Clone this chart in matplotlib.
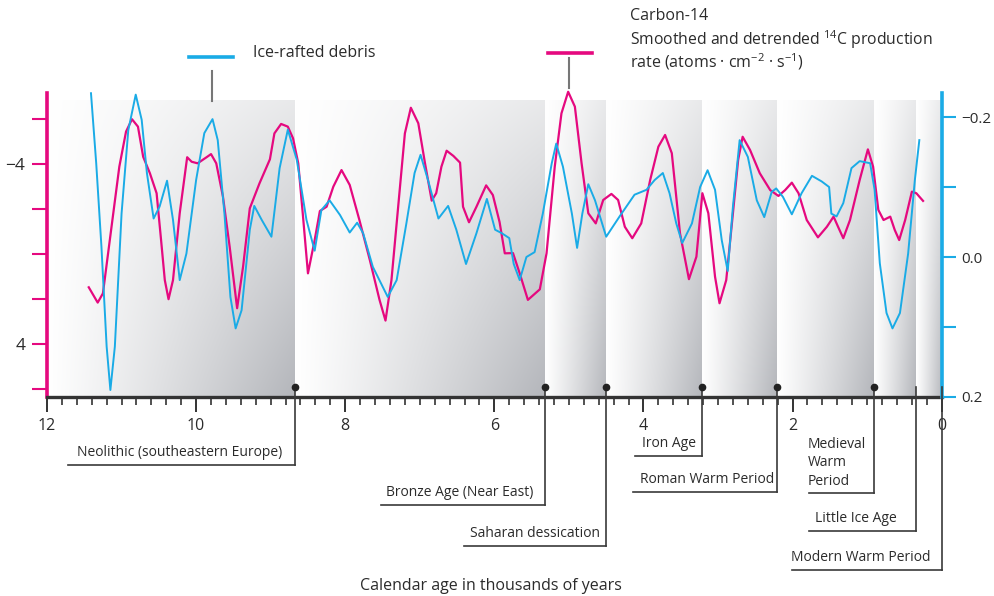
import numpy as np
import matplotlib
matplotlib.use("Agg")
import matplotlib.pyplot as plt
from matplotlib.lines import Line2D

plt.rcParams["font.family"] = ["Open Sans", "DejaVu Sans"]
plt.rcParams["mathtext.fontset"] = "custom"
plt.rcParams["mathtext.rm"] = "Open Sans"
plt.rcParams["mathtext.default"] = "regular"

MAGENTA = "#e5097f"
CYAN = "#1aabe6"
INK = "#2b2b2b"

# carbon-14 production rate (left axis, inverted)
c14_age = [11.44, 11.32, 11.25, 11.14, 11.03, 10.94, 10.86, 10.78, 10.71, 10.62,
           10.53, 10.47, 10.42, 10.37, 10.31, 10.22, 10.12, 10.06, 9.98, 9.86,
           9.80, 9.73, 9.64, 9.55, 9.45, 9.37, 9.28, 9.15, 9.01, 8.95,
           8.86, 8.77, 8.70, 8.63, 8.57, 8.50, 8.41, 8.34, 8.25, 8.16,
           8.05, 7.94, 7.81, 7.67, 7.54, 7.46, 7.38, 7.29, 7.20, 7.12,
           7.02, 6.93, 6.84, 6.78, 6.71, 6.64, 6.55, 6.46, 6.42, 6.34,
           6.24, 6.11, 6.02, 5.93, 5.86, 5.75, 5.66, 5.55, 5.39, 5.30,
           5.19, 5.10, 5.01, 4.92, 4.83, 4.74, 4.64, 4.54, 4.43, 4.34,
           4.25, 4.15, 4.03, 3.91, 3.80, 3.71, 3.62, 3.51, 3.39, 3.29,
           3.21, 3.13, 3.04, 2.98, 2.89, 2.80, 2.73, 2.67, 2.57, 2.44,
           2.30, 2.19, 2.10, 2.01, 1.92, 1.81, 1.66, 1.54, 1.45, 1.39,
           1.32, 1.23, 1.10, 0.99, 0.92, 0.85, 0.78, 0.69, 0.63, 0.57,
           0.49, 0.40, 0.34, 0.25]
c14_rate = [1.48, 2.16, 1.75, -1.07, -3.88, -5.44, -5.99, -5.66, -4.32, -3.59,
            -2.70, -0.62, 1.16, 2.01, 1.16, -1.81, -4.30, -4.10, -4.03, -4.30,
            -4.44, -4.03, -2.55, -0.32, 2.41, 0.56, -2.03, -3.14, -4.21, -5.36,
            -5.78, -5.66, -5.14, -4.03, -1.81, 0.86, -0.62, -1.91, -2.10, -2.99,
            -3.73, -3.07, -1.51, 0.27, 2.04, 2.96, 1.16, -2.10, -5.36, -6.50,
            -5.81, -4.03, -2.37, -2.70, -3.88, -4.59, -4.36, -4.06, -2.10, -1.41,
            -2.10, -3.05, -2.62, -1.42, -0.03, -0.04, 0.86, 2.04, 1.57, -0.03,
            -3.88, -6.25, -7.21, -6.55, -4.03, -1.81, -1.36, -2.40, -2.67, -2.40,
            -1.21, -0.70, -1.36, -3.29, -4.77, -5.29, -4.48, -0.92, 1.12, 0.12,
            -2.70, -1.81, 1.01, 2.19, 1.16, -1.81, -4.18, -5.21, -4.62, -3.59,
            -2.84, -2.58, -2.84, -3.17, -2.70, -1.51, -0.74, -1.21, -1.66, -1.21,
            -0.70, -1.51, -3.29, -4.65, -3.88, -1.96, -1.51, -1.66, -1.07, -0.62,
            -1.51, -2.77, -2.70, -2.36]

# ice-rafted debris (right axis, inverted)
ird_age = [11.41, 11.34, 11.27, 11.20, 11.15, 11.09, 11.00, 10.91, 10.81, 10.73,
           10.66, 10.57, 10.49, 10.39, 10.31, 10.22, 10.13, 10.00, 9.89, 9.78,
           9.71, 9.62, 9.54, 9.47, 9.39, 9.28, 9.22, 9.12, 8.99, 8.88,
           8.77, 8.65, 8.52, 8.41, 8.32, 8.21, 8.07, 7.94, 7.84, 7.76,
           7.63, 7.43, 7.31, 7.18, 7.07, 6.99, 6.89, 6.75, 6.62, 6.51,
           6.38, 6.24, 6.10, 5.99, 5.90, 5.80, 5.74, 5.66, 5.57, 5.46,
           5.35, 5.23, 5.17, 5.08, 4.96, 4.89, 4.82, 4.74, 4.65, 4.50,
           4.32, 4.12, 3.96, 3.85, 3.74, 3.65, 3.56, 3.48, 3.35, 3.24,
           3.14, 3.04, 2.95, 2.87, 2.80, 2.71, 2.60, 2.48, 2.38, 2.28,
           2.22, 2.13, 2.01, 1.88, 1.74, 1.61, 1.51, 1.48, 1.41, 1.32,
           1.21, 1.10, 0.96, 0.90, 0.83, 0.74, 0.66, 0.56, 0.45, 0.36, 0.30]
ird_value = [-0.234, -0.134, -0.015, 0.128, 0.190, 0.128, -0.062, -0.181, -0.232, -0.196,
             -0.120, -0.055, -0.072, -0.109, -0.053, 0.033, -0.005, -0.110, -0.177, -0.197,
             -0.167, -0.062, 0.057, 0.102, 0.076, -0.039, -0.073, -0.053, -0.029, -0.127,
             -0.182, -0.139, -0.053, -0.009, -0.067, -0.081, -0.060, -0.035, -0.049, -0.034,
             0.014, 0.057, 0.033, -0.048, -0.120, -0.146, -0.110, -0.055, -0.073, -0.039,
             0.010, -0.034, -0.083, -0.039, -0.034, -0.027, 0.010, 0.033, 0.000, -0.007,
             -0.062, -0.134, -0.162, -0.129, -0.062, -0.013, -0.062, -0.104, -0.081, -0.029,
             -0.058, -0.089, -0.096, -0.110, -0.120, -0.091, -0.048, -0.020, -0.048, -0.100,
             -0.124, -0.096, -0.024, 0.020, -0.072, -0.167, -0.143, -0.081, -0.057, -0.093,
             -0.098, -0.086, -0.061, -0.091, -0.116, -0.108, -0.100, -0.062, -0.058, -0.077,
             -0.127, -0.137, -0.134, -0.096, 0.009, 0.080, 0.102, 0.080, -0.005, -0.110, -0.167]

# cultural / climate periods along the age axis
event_age = [8.68, 5.32, 4.50, 3.21, 2.21, 0.91, 0.35, 0.0]
event_label = ["Neolithic (southeastern Europe)", "Bronze Age (Near East)",
               "Saharan dessication", "Iron Age", "Roman Warm Period",
               "Medieval\nWarm\nPeriod", "Little Ice Age", "Modern Warm Period"]
event_dot = [True, True, True, True, True, True, False, False]
# label layout in pixels: underline y, underline left x, text left x
event_box = [(465, 68, 77), (505, 381, 386), (546, 464, 470), (456, 635, 642),
             (492, 633, 640), (493, 809, 808), (531, 809, 815), (570, 792, 791)]

band_edges = [12.0, 8.68, 5.32, 4.50, 3.21, 2.21, 0.91, 0.35, 0.0]

W, H = 995, 596
fig = plt.figure(figsize=(W / 100, H / 100), dpi=100)


def fx(px):
    return px / W


def fy(py):
    return 1 - py / H


rect = [fx(47), fy(397), fx(941.7) - fx(47), fy(93.3) - fy(397)]

# shaded background bands
bg = fig.add_axes(rect)
bg.axis("off")
dark = np.array([180, 182, 187]) / 255.0
nr, nc = 120, 200
hx = np.linspace(0, 1, nc) ** 1.1
vy = np.linspace(1, 0, nr)
shade = hx[None, :] * (0.3 + 0.7 * vy[:, None])
img = 1 - shade[:, :, None] * (1 - dark[None, None, :])
for a0, a1 in zip(band_edges[:-1], band_edges[1:]):
    bg.imshow(img, extent=(a0, a1, 0, 0.975), origin="lower", aspect="auto",
              interpolation="bilinear")
bg.set_xlim(12, 0)
bg.set_ylim(0, 1)

ax = fig.add_axes(rect)
ax.patch.set_alpha(0)
ax2 = ax.twinx()

ax.plot(c14_age, c14_rate, color=MAGENTA, lw=1.6, clip_on=False, zorder=3,
        solid_joinstyle="round")
ax2.plot(ird_age, ird_value, color=CYAN, lw=1.4, clip_on=False, zorder=3,
         solid_joinstyle="round")

ax.set_xlim(12, 0)
ax.set_ylim(6.356, -7.142)
ax2.set_ylim(0.2, -0.2339)

for s in ["top", "right"]:
    ax.spines[s].set_visible(False)
for s in ["top", "left", "bottom"]:
    ax2.spines[s].set_visible(False)
ax.spines["left"].set_color(MAGENTA)
ax.spines["left"].set_linewidth(2.6)
ax.spines["bottom"].set_color("#333333")
ax.spines["bottom"].set_linewidth(2.4)
ax2.spines["right"].set_color(CYAN)
ax2.spines["right"].set_linewidth(2.6)

ax.set_xticks(range(0, 13, 2))
ax.set_xticklabels([str(v) for v in range(0, 13, 2)])
ax.set_xticks(np.arange(0, 12.01, 0.2), minor=True)
ax.tick_params(axis="x", which="major", length=11, width=1.4, color="#333333",
               labelsize=11.5, labelcolor=INK, pad=4)
ax.tick_params(axis="x", which="minor", length=6, width=1.2, color="#333333")

ax.set_yticks([-6, -4, -2, 0, 2, 4, 6])
ax.set_yticklabels(["", "\u22124", "", "", "", "4", ""])
ax.tick_params(axis="y", length=11, width=1.5, color=MAGENTA, labelsize=12.5,
               labelcolor=INK, pad=4.5)

ax2.set_yticks([-0.2, -0.1, 0.0, 0.1, 0.2])
ax2.set_yticklabels(["\u22120.2", "", "0.0", "", "0.2"])
ax2.tick_params(axis="y", length=10, width=1.5, color=CYAN, labelsize=11,
                labelcolor=INK, pad=4)

# period markers and labels
to_fig = fig.transFigure.inverted()
for age, label, dot, (uy, ux, tx) in zip(event_age, event_label, event_dot, event_box):
    ex = to_fig.transform(ax.transData.transform((age, 0)))[0]
    top = fy(386.5)
    fig.add_artist(Line2D([ex, ex], [top, fy(uy)], color="#3a3a3a", lw=1.2,
                          transform=fig.transFigure))
    fig.add_artist(Line2D([fx(ux), ex], [fy(uy), fy(uy)], color="#3a3a3a", lw=1.2,
                          transform=fig.transFigure))
    if dot:
        fig.add_artist(Line2D([ex], [top], marker="o", markersize=4.5,
                              color="#222222", transform=fig.transFigure))
    nlines = label.count("\n") + 1
    cy = uy - 12.5 - (nlines - 1) * 8.8
    fig.text(fx(tx), fy(cy), label, ha="left", va="center", fontsize=10,
             color=INK, linespacing=1.3)

# legend keys
fig.add_artist(Line2D([fx(189), fx(233)], [fy(57.3), fy(57.3)], color=CYAN, lw=2.6,
                      transform=fig.transFigure))
fig.add_artist(Line2D([fx(212.3), fx(212.3)], [fy(70.7), fy(100.7)], color="#777777",
                      lw=1.5, transform=fig.transFigure))
fig.text(fx(253), fy(53), "Ice-rafted debris", ha="left", va="center", fontsize=11.5,
         color=INK)

fig.add_artist(Line2D([fx(547.7), fx(591.7)], [fy(52.7), fy(52.7)], color=MAGENTA,
                      lw=2.6, transform=fig.transFigure))
fig.add_artist(Line2D([fx(569.3), fx(569.3)], [fy(58.3), fy(88.3)], color="#777777",
                      lw=1.5, transform=fig.transFigure))
fig.text(fx(630), fy(15.7), "Carbon-14", ha="left", va="center", fontsize=11.5, color=INK)
fig.text(fx(630), fy(39.3), "Smoothed and detrended $^{14}$C production", ha="left",
         va="center", fontsize=11.3, color=INK)
fig.text(fx(630), fy(61.7), "rate (atoms \u00b7 cm$^{\u22122}$ \u00b7 s$^{\u22121}$)",
         ha="left", va="center", fontsize=11.5, color=INK)

fig.text(fx(491), fy(586), "Calendar age in thousands of years", ha="center",
         va="center", fontsize=11.5, color=INK)

fig.savefig("out.png", dpi=100)
